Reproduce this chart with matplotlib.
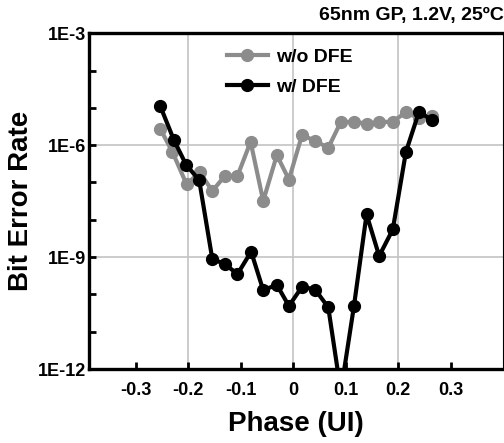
import numpy as np
from matplotlib import pyplot as plt
from matplotlib.ticker import FixedLocator, NullLocator

plt.rcParams["font.family"] = ["Liberation Sans", "DejaVu Sans"]
plt.rcParams["font.weight"] = "bold"

# Phase (UI) and bit error rate
phase_wo = [-0.253, -0.230, -0.203, -0.178, -0.154, -0.130, -0.106, -0.081,
            -0.057, -0.031, -0.008, 0.017, 0.042, 0.067, 0.091, 0.116,
            0.140, 0.164, 0.190, 0.215, 0.240, 0.264]
ber_wo = [2.7e-6, 6.6e-7, 8.9e-8, 1.9e-7, 5.9e-8, 1.5e-7, 1.5e-7, 1.23e-6,
          3.2e-8, 5.4e-7, 1.2e-7, 1.86e-6, 1.3e-6, 8.5e-7, 4.2e-6, 4.2e-6,
          3.8e-6, 4.1e-6, 4.3e-6, 7.6e-6, 5.2e-6, 6.0e-6]

phase_w = [-0.253, -0.227, -0.204, -0.179, -0.154, -0.130, -0.106, -0.080,
           -0.057, -0.031, -0.008, 0.017, 0.042, 0.067, 0.091, 0.116,
           0.140, 0.164, 0.190, 0.215, 0.240, 0.264]
ber_w = [1.1e-5, 1.35e-6, 3.0e-7, 1.15e-7, 8.9e-10, 6.5e-10, 3.5e-10, 1.4e-9,
         1.3e-10, 1.8e-10, 4.9e-11, 1.6e-10, 1.35e-10, 4.5e-11, 2.5e-13, 4.9e-11,
         1.4e-8, 1.07e-9, 5.5e-9, 6.6e-7, 7.9e-6, 4.7e-6]

x_ticks = [-0.3, -0.2, -0.1, 0, 0.1, 0.2, 0.3]
x_labels = ["-0.3", "-0.2", "-0.1", "0", "0.1", "0.2", "0.3"]
y_labels = {1e-3: "1E-3", 1e-6: "1E-6", 1e-9: "1E-9", 1e-12: "1E-12"}

fig = plt.figure(figsize=(5.04, 4.43), dpi=100)
ax = fig.add_axes([0.177, 0.167, 0.821, 0.758])

gray = "#8c8c8c"
ax.plot(phase_wo, ber_wo, color=gray, lw=3, marker="o", ms=8.5,
        label="w/o DFE", zorder=3)
ax.plot(phase_w, ber_w, color="black", lw=3, marker="o", ms=8.5,
        label="w/ DFE", zorder=4)

ax.set_yscale("log")
ax.set_ylim(1e-12, 1e-3)
ax.set_xlim(-0.3886, 0.40)

# grid lines only at a few positions
for gx in [-0.2, 0, 0.2]:
    ax.axvline(gx, color="#c4c4c4", lw=1.2, zorder=1)
for gy in [1e-6, 1e-9]:
    ax.axhline(gy, color="#c4c4c4", lw=1.2, zorder=1)

ax.xaxis.set_major_locator(FixedLocator(x_ticks))
ax.set_xticklabels(x_labels)
decades = [10.0 ** k for k in range(-12, -2)]
ax.yaxis.set_major_locator(FixedLocator(decades))
ax.yaxis.set_minor_locator(NullLocator())
ax.set_yticklabels([y_labels.get(d, "") for d in decades])

ax.tick_params(axis="both", direction="in", length=5, width=2, labelsize=13)
ax.tick_params(axis="x", pad=9)
ax.tick_params(axis="y", pad=2)

for side in ["left", "bottom", "top"]:
    ax.spines[side].set_linewidth(2.4)
ax.spines["right"].set_linewidth(0.8)

ax.set_xlabel("Phase (UI)", fontsize=20, fontweight="bold", labelpad=9)
ax.set_ylabel("Bit Error Rate", fontsize=20, fontweight="bold", labelpad=3)

fig.text(0.999, 0.985, "65nm GP, 1.2V, 25ºC", ha="right", va="top",
         fontsize=14, fontweight="bold")

ax.legend(loc="upper left", bbox_to_anchor=(0.3, 0.995), frameon=False,
          fontsize=14, handlelength=2.1, handletextpad=0.4,
          labelspacing=0.62, borderaxespad=0.3)

fig.savefig("out.png", dpi=100)
